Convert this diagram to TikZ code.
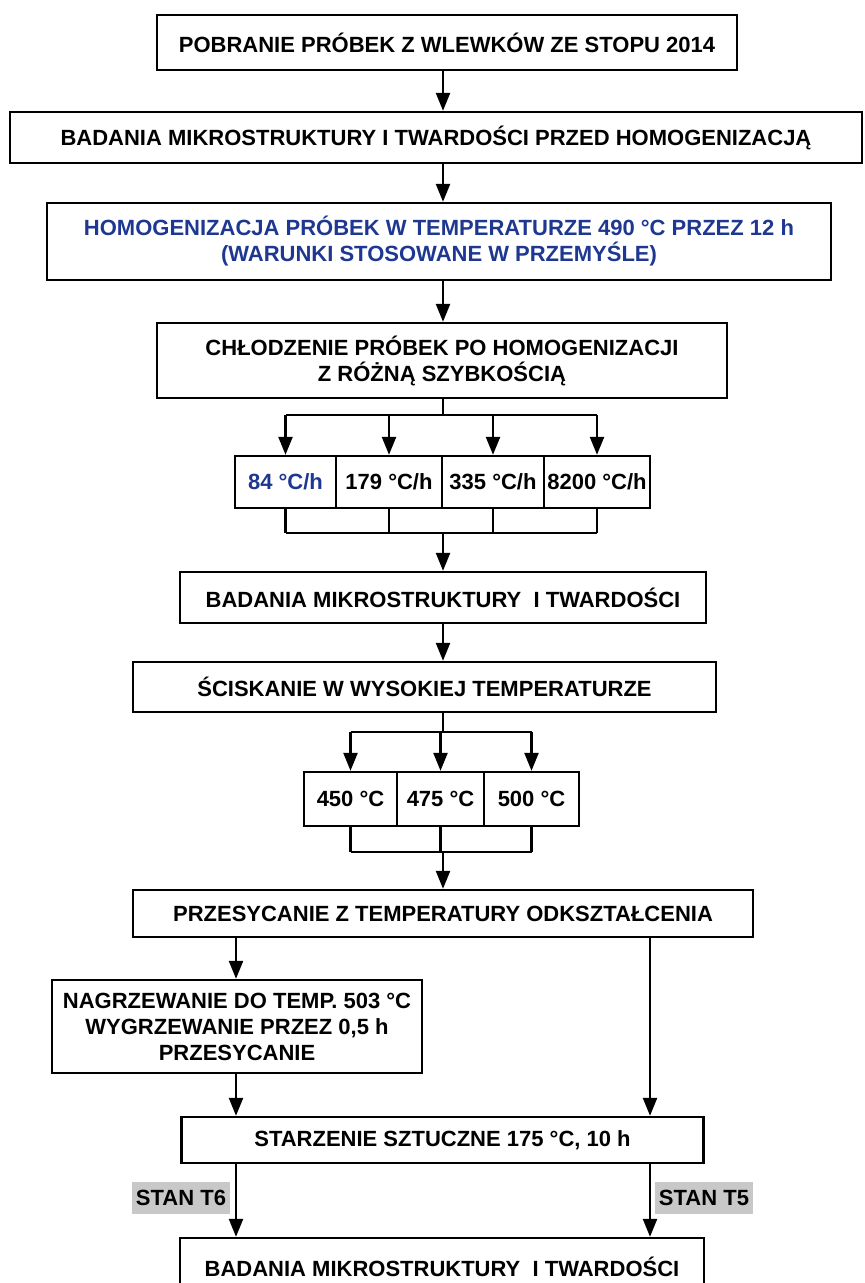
\documentclass[tikz,border=0pt]{standalone}
\usepackage{fontspec}
\setmainfont{Liberation Sans}
\usetikzlibrary{arrows.meta,calc}
\definecolor{procblue}{RGB}{30,55,145}
\definecolor{stangray}{RGB}{200,200,200}

\begin{document}
\begin{tikzpicture}[x=0.5pt,y=-0.5pt,line width=1.2pt,
    >={Triangle[length=9pt,width=7pt]},
    every node/.style={font=\fontsize{11}{13}\selectfont\bfseries},
    box/.style={rectangle,draw,inner sep=0pt,align=center},
    tag/.style={rectangle,fill=stangray,inner sep=0pt,minimum width=49pt,minimum height=16pt}]
  \useasboundingbox (0,0) rectangle (864,1283);

  	\path (447,42.5) node[box,minimum width=290pt,minimum height=27.5pt](pobr){POBRANIE PRÓBEK Z WLEWKÓW ZE STOPU 2014}
  		(436,137.5) node[box,minimum width=426pt,minimum height=25.5pt](bad0){BADANIA MIKROSTRUKTURY I TWARDOŚCI PRZED HOMOGENIZACJĄ}
  		(439,241.5) node[box,minimum width=392pt,minimum height=38.5pt,text=procblue](homo){HOMOGENIZACJA PRÓBEK W TEMPERATURZE 490 °C PRZEZ 12 h\\(WARUNKI STOSOWANE W PRZEMYŚLE)}
  		(442,360.5) node[box,minimum width=285pt,minimum height=37.5pt](chl){CHŁODZENIE PRÓBEK PO HOMOGENIZACJI\\Z RÓŻNĄ SZYBKOŚCIĄ}
  		(285.5,482) node[box,minimum width=50.5pt,minimum height=26pt,text=procblue](v1){84 °C/h}
  		(389,482) node[box,minimum width=53pt,minimum height=26pt](v2){179 °C/h}
  		(493,482) node[box,minimum width=51pt,minimum height=26pt](v3){335 °C/h}
  		(597,482) node[box,minimum width=53pt,minimum height=26pt](v4){8200 °C/h}
  		(443,597.5) node[box,minimum width=263pt,minimum height=25.5pt](bad1){BADANIA MIKROSTRUKTURY\ \ I TWARDOŚCI}
  		(424.5,687) node[box,minimum width=291.5pt,minimum height=25pt](scis){ŚCISKANIE W WYSOKIEJ TEMPERATURZE}
  		(350.5,799) node[box,minimum width=46.5pt,minimum height=27pt](t1){450 °C}
  		(440.5,799) node[box,minimum width=43.5pt,minimum height=27pt](t2){475 °C}
  		(531.5,799) node[box,minimum width=47.5pt,minimum height=27pt](t3){500 °C}
  		(443,913.5) node[box,minimum width=310pt,minimum height=23.5pt](prz){PRZESYCANIE Z TEMPERATURY ODKSZTAŁCENIA}
  		(237,1026.5) node[box,minimum width=185pt,minimum height=46.5pt](nagr){NAGRZEWANIE DO TEMP. 503 °C\\WYGRZEWANIE PRZEZ 0,5 h\\PRZESYCANIE}
  		(442.5,1140) node[box,minimum width=261pt,minimum height=23pt](star){STARZENIE SZTUCZNE 175 °C, 10 h}
  		(442,1267) node[box,minimum width=262pt,minimum height=29pt](bad2){BADANIA MIKROSTRUKTURY\ \ I TWARDOŚCI}
  		(181,1198) node[tag](t6){STAN T6}
  		(704,1198) node[tag](t5){STAN T5};

  	\coordinate (spine) at (443,0);
  	\coordinate (split1) at (443,415);
  	\coordinate (join1) at (443,533);
  	\coordinate (split2) at (443,732);
  	\coordinate (join2) at (443,852);
  	\coordinate (lcol) at (236,937);
  	\coordinate (rcol) at (650,937);

  	\draw[->](pobr.south -| spine) -- (bad0.north -| spine);
  	\draw[->](bad0.south -| spine) -- (homo.north -| spine);
  	\draw[->](homo.south -| spine) -- (chl.north -| spine);
  	\draw(chl.south -| split1) -- (split1);
  	\draw(split1 -| v1) -- (split1 -| v4);
  	\foreach \v in {v1,v2,v3,v4}
  		\draw[->](split1 -| \v) -- (\v.north);
  	\foreach \v in {v1,v2,v3,v4}
  		\draw(\v.south) -- (join1 -| \v);
  	\draw(join1 -| v1) -- (join1 -| v4);
  	\draw[->](join1) -- (bad1.north -| join1);
  	\draw[->](bad1.south -| join1) -- (scis.north -| join1);
  	\draw(scis.south -| split2) -- (split2);
  	\draw(split2 -| t1) -- (split2 -| t3);
  	\foreach \t in {t1,t2,t3}
  		\draw[->](split2 -| \t) -- (\t.north);
  	\foreach \t in {t1,t2,t3}
  		\draw(\t.south) -- (join2 -| \t);
  	\draw(join2 -| t1) -- (join2 -| t3);
  	\draw[->](join2) -- (prz.north -| join2);
  	\draw[->](lcol) -- (lcol |- nagr.north);
  	\draw[->](rcol) -- (rcol |- star.north);
  	\draw[->](lcol |- nagr.south) -- (lcol |- star.north);
  	\draw[->](lcol |- star.south) -- (lcol |- bad2.north);
  	\draw[->](rcol |- star.south) -- (rcol |- bad2.north);
  \end{tikzpicture}
\end{document}
